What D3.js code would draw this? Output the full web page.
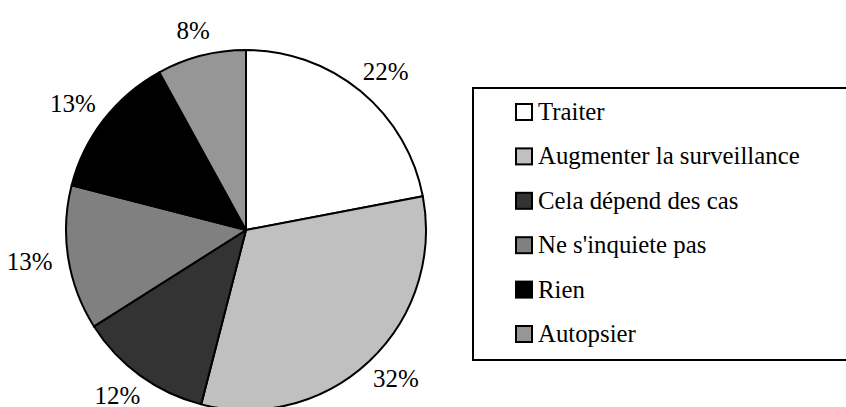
<!DOCTYPE html>
<html>
<head>
<meta charset="utf-8">
<script src="https://cdn.jsdelivr.net/npm/d3@7"></script>
</head>
<body style="margin:0">
<svg width="846" height="407"></svg>
<script>
// --- DATA ---
const categories = ['Traiter', 'Augmenter la surveillance', 'Cela dépend des cas', "Ne s'inquiete pas", 'Rien', 'Autopsier'];
const percents = [22, 32, 12, 13, 13, 8];
const fills = ['#ffffff', '#c0c0c0', '#333333', '#808080', '#000000', '#969696'];

const data = categories.map((name, i) => ({ name, value: percents[i], fill: fills[i] }));

// --- SETUP ---
const svg = d3.select('svg');
const cx = 246, cy = 230, radius = 180, labelRadius = 196;
// serif only resolves at small sizes here, so text is set at 20px and scaled up
const baseSize = 20, labelScale = 1.25, legendScale = 1.24;

const pie = d3.pie().sort(null).value(d => d.value);
const arc = d3.arc().innerRadius(0).outerRadius(radius);

// --- PIE ---
const g = svg.append('g').attr('transform', `translate(${cx},${cy})`);
const arcs = pie(data);

g.selectAll('path')
    .data(arcs)
    .enter().append('path')
    .attr('d', arc)
    .attr('fill', d => d.data.fill)
    .attr('stroke', '#000')
    .attr('stroke-width', 2)
    .attr('stroke-linejoin', 'round');

// labels sit outside the edge, pushed outward by half their width
const labels = g.selectAll('text')
    .data(arcs)
    .enter().append('text')
    .style('font-family', d => '"Liberation Serif"')
    .attr('text-anchor', 'middle')
    .attr('font-size', baseSize)
    .attr('fill', '#000')
    .text(d => d.data.value + '%');

labels.each(function(d) {
    const a = (d.startAngle + d.endAngle) / 2;
    const w = this.getComputedTextLength() * labelScale;
    const x = Math.sin(a) * (labelRadius + w / 2);
    const y = -Math.cos(a) * (labelRadius + 9);
    const by = Math.min(y + 8, 407 - cy - 3);
    d3.select(this).attr('transform', `translate(${x},${by}) scale(${labelScale})`);
});

// --- LEGEND ---
const legendX = 473, legendTop = 88, legendBottom = 360;
svg.append('rect')
    .attr('x', legendX)
    .attr('y', legendTop)
    .attr('width', 400)
    .attr('height', legendBottom - legendTop)
    .attr('fill', 'none')
    .attr('stroke', '#000')
    .attr('stroke-width', 2);

const itemY = d3.scalePoint().domain(categories).range([112, 334]);

svg.selectAll('rect.key')
    .data(data)
    .enter().append('rect')
    .attr('class', 'key')
    .attr('x', 516)
    .attr('y', d => itemY(d.name) - 8)
    .attr('width', 16)
    .attr('height', 16)
    .attr('fill', d => d.fill)
    .attr('stroke', '#000')
    .attr('stroke-width', 2);

svg.selectAll('text.name')
    .data(data)
    .enter().append('text')
    .attr('class', 'name')
    .style('font-family', d => '"Liberation Serif"')
    .attr('transform', d => `translate(538,${itemY(d.name) + 8}) scale(${legendScale})`)
    .attr('font-size', baseSize)
    .attr('fill', '#000')
    .text(d => d.name);
</script>
</body>
</html>
